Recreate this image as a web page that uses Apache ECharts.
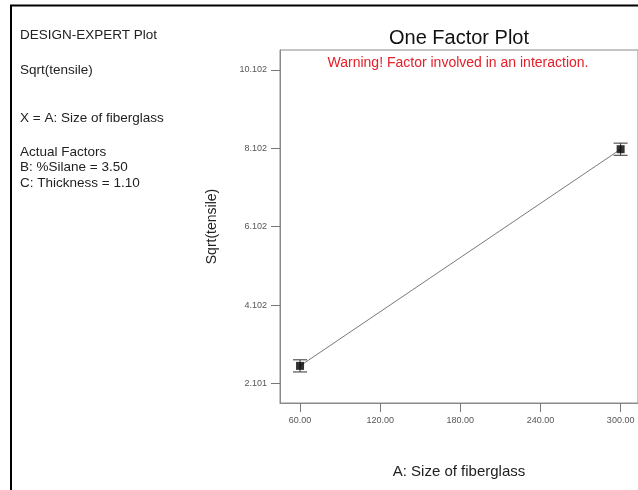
<!DOCTYPE html>
<html>
<head>
<meta charset="utf-8">
<script src="https://cdn.jsdelivr.net/npm/echarts@6/dist/echarts.min.js"></script>
<style>
html,body{margin:0;padding:0;background:#fff;}
#chart{width:638px;height:490px;}
</style>
</head>
<body>
<div id="chart"></div>
<script>
// ---- data ----
const xValues = [60, 300];
const meanValues = [2.55, 8.08];
const lowerValues = [2.395, 7.925];
const upperValues = [2.705, 8.235];
const xTicks = [60, 120, 180, 240, 300];
const yTicks = [2.101, 4.102, 6.102, 8.102, 10.102];
const infoLines = ['DESIGN-EXPERT Plot', 'Sqrt(tensile)', 'X = A: Size of fiberglass', 'Actual Factors', 'B: %Silane = 3.50', 'C: Thickness = 1.10'];

const FONT = '"Liberation Sans", Arial, sans-serif';
const chart = echarts.init(document.getElementById('chart'));

const linePts = xValues.map((x, i) => [x, meanValues[i]]);
const errPts = xValues.map((x, i) => [x, lowerValues[i], upperValues[i]]);

const infoY = [35, 70, 118, 152, 167, 183];

chart.setOption({
  animation: false,
  backgroundColor: '#fff',
  grid: { left: 280, top: 50, right: 0, bottom: 87, show: true, borderColor: '#8a8a8a', borderWidth: 1 },
  xAxis: {
    type: 'value', min: 45, max: 313,
    name: 'A: Size of fiberglass', nameLocation: 'middle', nameGap: 61,
    nameTextStyle: { fontFamily: FONT, fontSize: 15, color: '#222' },
    axisLine: { show: true, lineStyle: { color: '#8a8a8a', width: 1 } },
    axisTick: { show: true, length: 9, customValues: xTicks, lineStyle: { color: '#777' } },
    axisLabel: { customValues: xTicks, margin: 13, fontFamily: FONT, fontSize: 9, color: '#555',
      formatter: v => Number(v).toFixed(2) },
    splitLine: { show: false }
  },
  yAxis: {
    type: 'value', min: 1.603, max: 10.612,
    name: 'Sqrt(tensile)', nameLocation: 'middle', nameGap: 61,
    nameTextStyle: { fontFamily: FONT, fontSize: 14, color: '#222' },
    axisLine: { show: true, lineStyle: { color: '#8a8a8a', width: 1 } },
    axisTick: { show: true, length: 9, customValues: yTicks, lineStyle: { color: '#777' } },
    axisLabel: { customValues: yTicks, margin: 13, fontFamily: FONT, fontSize: 9, color: '#555',
      formatter: v => Number(v).toFixed(3) },
    splitLine: { show: false }
  },
  graphic: [
    { type: 'line', shape: { x1: 10, y1: 5.5, x2: 638, y2: 5.5 }, style: { stroke: '#000', lineWidth: 2 } },
    { type: 'line', shape: { x1: 11, y1: 5, x2: 11, y2: 490 }, style: { stroke: '#000', lineWidth: 2 } },
    { type: 'text', x: 459, y: 38, style: { text: 'One Factor Plot', fontFamily: FONT, fontSize: 20, fill: '#111', align: 'center', verticalAlign: 'middle' } },
    { type: 'text', x: 458, y: 63, style: { text: 'Warning! Factor involved in an interaction.', fontFamily: FONT, fontSize: 14, fill: '#e3202a', align: 'center', verticalAlign: 'middle' } }
  ].concat(infoLines.map((t, i) => ({
    type: 'text', x: 20, y: infoY[i],
    style: { text: t, fontFamily: FONT, fontSize: 13.5, fill: '#222', align: 'left', verticalAlign: 'middle' }
  }))),
  series: [
    {
      type: 'line', data: linePts, symbol: 'none', z: 2,
      lineStyle: { color: '#7a7a7a', width: 1 }
    },
    {
      type: 'custom', z: 3,
      data: errPts,
      renderItem: function (params, api) {
        const lo = api.coord([api.value(0), api.value(1)]);
        const hi = api.coord([api.value(0), api.value(2)]);
        const hw = 7;
        const st = { stroke: '#333', lineWidth: 1 };
        return {
          type: 'group',
          children: [
            { type: 'line', shape: { x1: lo[0], y1: lo[1], x2: hi[0], y2: hi[1] }, style: st },
            { type: 'line', shape: { x1: lo[0] - hw, y1: lo[1], x2: lo[0] + hw, y2: lo[1] }, style: st },
            { type: 'line', shape: { x1: hi[0] - hw, y1: hi[1], x2: hi[0] + hw, y2: hi[1] }, style: st }
          ]
        };
      }
    },
    {
      type: 'scatter', data: linePts, symbol: 'rect', symbolSize: 8, z: 4,
      itemStyle: { color: '#000' }
    }
  ]
});
</script>
</body>
</html>
